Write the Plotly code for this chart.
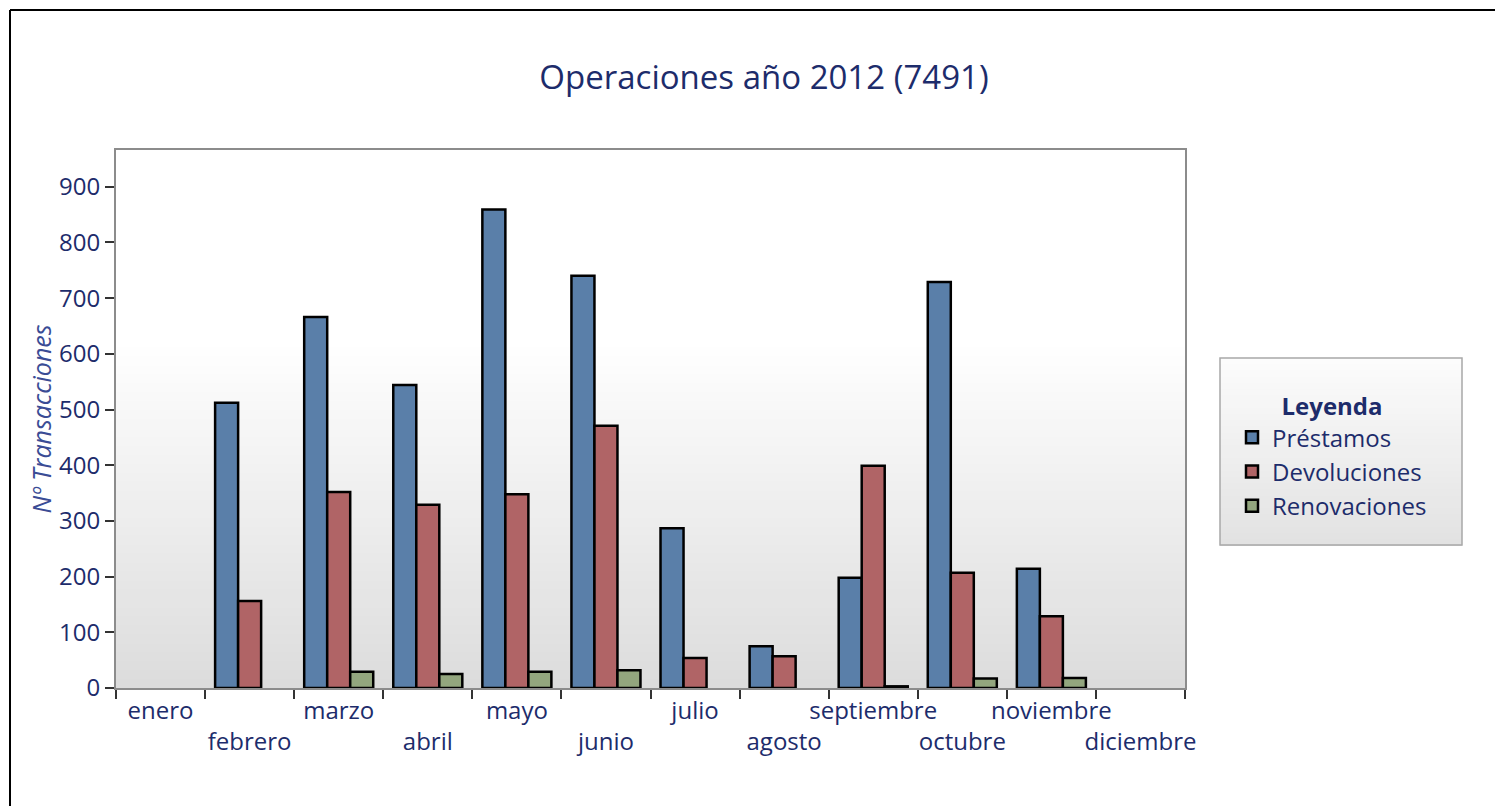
import plotly.graph_objects as go

# ---------------- data ----------------
months = ["enero", "febrero", "marzo", "abril", "mayo", "junio", "julio",
          "agosto", "septiembre", "octubre", "noviembre", "diciembre"]
prestamos = [0, 512, 666, 544, 859, 740, 287, 75, 198, 729, 214, 0]
devoluciones = [0, 156, 352, 329, 348, 471, 54, 57, 399, 207, 129, 0]
renovaciones = [0, 0, 29, 25, 29, 32, 0, 0, 3, 17, 18, 0]
series_names = ["Préstamos", "Devoluciones", "Renovaciones"]
y_ticks = [0, 100, 200, 300, 400, 500, 600, 700, 800, 900]
# alternate label rows like the original (odd months pushed to a second line)
tick_labels = [m if i % 2 == 0 else "<br>" + m for i, m in enumerate(months)]

# ---------------- style ----------------
PAGE_W, PAGE_H = 1503, 806
OFF = 8                      # default body margin of the html page
W, H = PAGE_W - OFF, PAGE_H - OFF
# plot area in page pixels
PX0, PX1, PY0, PY1 = 116, 1185, 150, 688
L, R, T, B = PX0 - OFF, W - (PX1 - OFF), PY0 - OFF, H - (PY1 - OFF)
PW, PH = PX1 - PX0, PY1 - PY0
NAVY = "#1d2c6b"
FONT = "Open Sans"
bar_colors = ["#5a7fa9", "#b06466", "#93a67e"]


def px_x(p):
    return (p - PX0) / PW


def px_y(p):
    return (PY1 - p) / PH


fig = go.Figure()
for name, vals, col in zip(series_names, [prestamos, devoluciones, renovaciones], bar_colors):
    fig.add_trace(go.Bar(
        x=months, y=[v if v > 0 else None for v in vals], name=name,
        marker=dict(color=col, line=dict(color="#000000", width=2.5)),
    ))

shapes = []
# plot-area vertical gradient (white top -> light grey bottom)
N = 60
for i in range(N):
    f0, f1 = i / N, (i + 1) / N
    fm = (f0 + f1) / 2
    t = min(1.0, fm / 0.65)
    g = int(round(220 + (255 - 220) * t))
    shapes.append(dict(type="rect", xref="paper", yref="paper", x0=0, x1=1, y0=f0, y1=f1 + 0.002,
                       fillcolor=f"rgb({g},{g},{g})", line=dict(width=0), layer="below"))

# legend box with gradient
lx0, lx1, ly0, ly1 = 1220, 1462, 358, 545
M = 30
for i in range(M):
    a = ly0 + (ly1 - ly0) * i / M
    b = ly0 + (ly1 - ly0) * (i + 1) / M
    t = (i + 0.5) / M
    g = int(round(252 - (252 - 226) * t))
    shapes.append(dict(type="rect", xref="paper", yref="paper", x0=px_x(lx0), x1=px_x(lx1),
                       y0=px_y(b) - 0.002, y1=px_y(a), fillcolor=f"rgb({g},{g},{g})",
                       line=dict(width=0), layer="below"))
shapes.append(dict(type="rect", xref="paper", yref="paper", x0=px_x(lx0), x1=px_x(lx1),
                   y0=px_y(ly1), y1=px_y(ly0), line=dict(color="#a8a8a8", width=1.5),
                   fillcolor="rgba(0,0,0,0)", layer="above"))

# outer frame (top and left edges)
shapes.append(dict(type="line", xref="paper", yref="paper", x0=px_x(10), x1=px_x(PAGE_W),
                   y0=px_y(10), y1=px_y(10), line=dict(color="#000000", width=2)))
shapes.append(dict(type="line", xref="paper", yref="paper", x0=px_x(10), x1=px_x(10),
                   y0=px_y(10), y1=px_y(PAGE_H), line=dict(color="#000000", width=2)))

fig.update_layout(
    width=W, height=H,
    margin=dict(l=L, r=R, t=T, b=B, pad=0),
    paper_bgcolor="white",
    plot_bgcolor="white",
    font=dict(family=FONT, color=NAVY, size=24),
    title=dict(text="Operaciones año 2012 (7491)", x=(764 - OFF) / W, xanchor="center",
               y=1 - (77 - OFF) / H, yanchor="middle", xref="container", yref="container",
               font=dict(family=FONT, size=33, color=NAVY)),
    barmode="group",
    bargap=0.225,
    bargroupgap=0,
    showlegend=True,
    legend=dict(
        x=px_x(1232), xanchor="left", y=px_y(384), yanchor="top",
        bgcolor="rgba(0,0,0,0)", borderwidth=0,
        font=dict(family=FONT, size=24, color=NAVY),
        title=dict(text="<b>Leyenda</b>", side="top center",
                   font=dict(family=FONT, size=24, color=NAVY)),
        traceorder="normal", tracegroupgap=0,
    ),
    shapes=shapes,
)

fig.update_xaxes(
    type="category",
    tickmode="array", tickvals=months, ticktext=tick_labels,
    tickson="boundaries",
    ticks="outside", ticklen=9, tickwidth=2, tickcolor="#333333",
    showline=True, linecolor="#8c8c8c", linewidth=2, mirror=True,
    showgrid=False, zeroline=False,
    tickfont=dict(family=FONT, size=24, color=NAVY),
    tickangle=0,
)
fig.update_yaxes(
    range=[0, 966],
    tickmode="array", tickvals=y_ticks,
    ticks="outside", ticklen=9, tickwidth=2, tickcolor="#333333",
    showline=True, linecolor="#8c8c8c", linewidth=2, mirror=True,
    showgrid=False, zeroline=False,
    tickfont=dict(family=FONT, size=24, color=NAVY),
    title=dict(text="<i>Nº Transacciones</i>", standoff=0,
               font=dict(family=FONT, size=25, color="#3a4c95")),
)

fig.write_html("out.html")
